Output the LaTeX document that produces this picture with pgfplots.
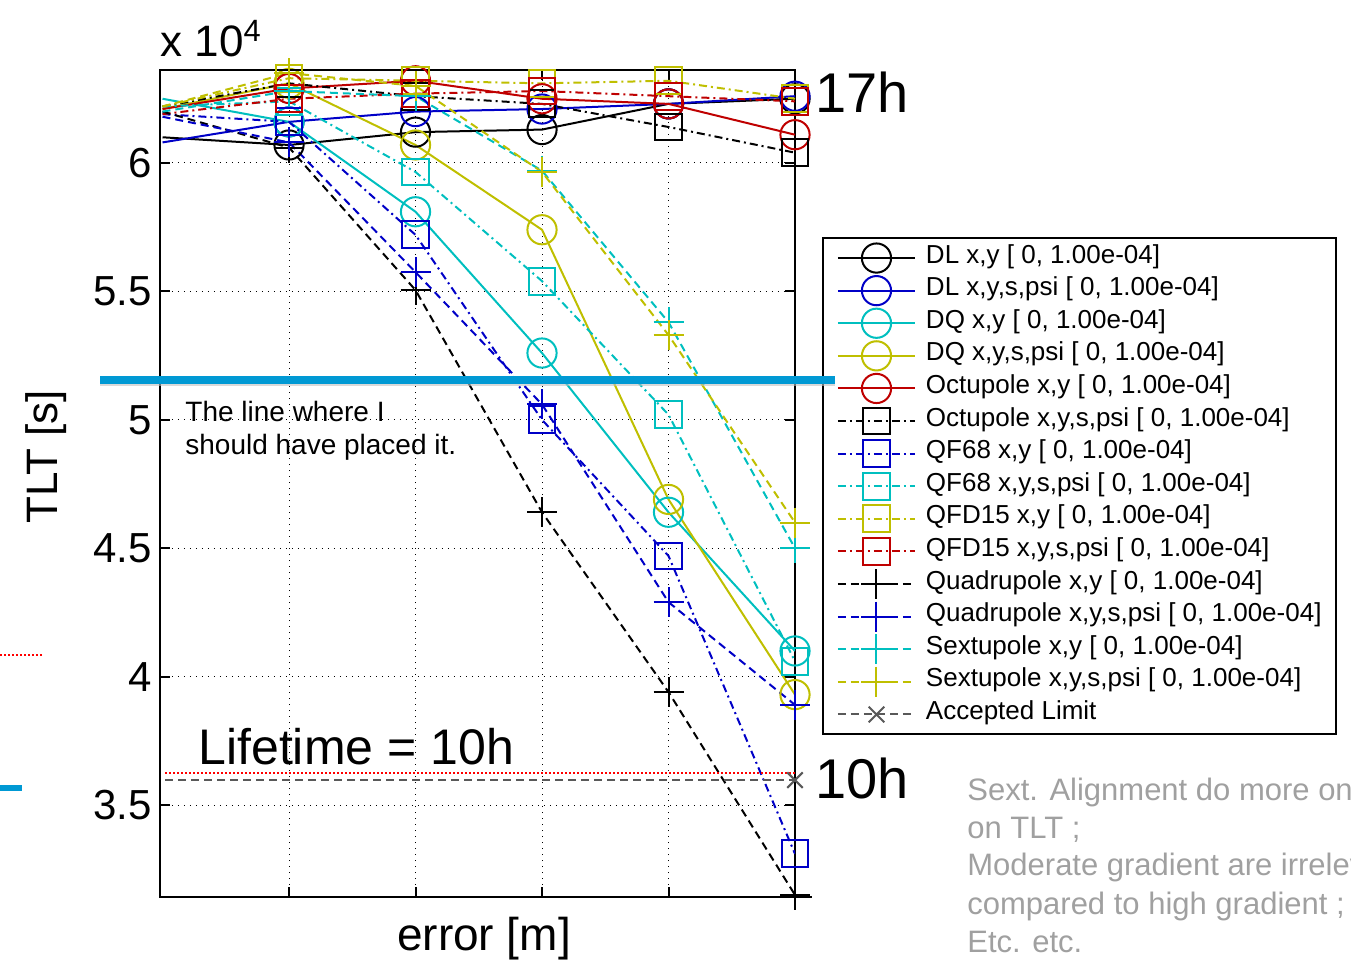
\documentclass[border=0pt]{standalone}
\usepackage{fontspec}
\setmainfont{Liberation Sans}
\usepackage{pgfplots}
\pgfplotsset{compat=1.18}
\definecolor{mblue}{rgb}{0,0,0.78}
\definecolor{mcyan}{rgb}{0,0.75,0.75}
\definecolor{molive}{rgb}{0.75,0.75,0}
\definecolor{mred}{rgb}{0.75,0,0}
\definecolor{mgray}{rgb}{0.35,0.35,0.35}
\definecolor{slideblue}{RGB}{0,153,212}
\definecolor{graytext}{RGB}{160,160,160}
\pgfplotsset{
  sO/.style={line width=1pt, solid, mark=o, mark size=7.3pt, mark options={solid}, mark indices={2,3,4,5,6}},
  sS/.style={line width=1pt, dash pattern=on 4pt off 2pt on 1pt off 2pt, mark=square, mark size=6.7pt, mark options={solid}, mark indices={2,3,4,5,6}},
  sP/.style={line width=1pt, dash pattern=on 4pt off 2.5pt, mark=+, mark size=7.5pt, mark options={solid}, mark indices={2,3,4,5,6}},
}
\begin{document}
\begin{tikzpicture}
\useasboundingbox (0,0) rectangle (675.5pt,480pt);
\clip (0,0) rectangle (675.5pt,480pt);
\begin{axis}[
  scale only axis, width=317.5pt, height=413.5pt,
  at={(80pt,31.5pt)}, anchor=south west,
  xmin=-0.02, xmax=5, ymin=3.142, ymax=6.362,
  xtick={1,2,3,4,5}, xticklabels={},
  ytick={3.5,4,4.5,5,5.5,6},
  scaled y ticks=false,
  tick align=inside, major tick length=5pt,
  grid=major,
  major grid style={black, line width=0.5pt, dash pattern=on 0.6pt off 2.4pt},
  axis line style={line width=1pt},
  every tick/.style={black, line width=1pt},
  /pgf/number format/assume math mode=true,
  yticklabel style={font=\fontsize{21}{21}\selectfont, inner xsep=4pt},
  legend image code/.code={\draw[#1, mark indices={2}] plot coordinates {(0pt,0pt) (19.25pt,0pt) (38.5pt,0pt)};},
  legend cell align=left,
  legend style={at={(1.0425,0.798)}, anchor=north west, draw=black, line width=1pt, fill=white,
    font=\fontsize{13}{14}\selectfont, inner xsep=7pt, inner ysep=2pt, row sep=0.3pt, column sep=5pt,
    nodes={inner sep=0pt, text height=10.5pt, text depth=5.5pt}},
]
\addplot[sO, black] coordinates {(0,6.10) (1,6.07) (2,6.12) (3,6.13) (4,6.23) (5,6.25)};
\addlegendentry{DL x,y [ 0, 1.00e-04]}
\addplot[sO, mblue] coordinates {(0,6.08) (1,6.16) (2,6.20) (3,6.21) (4,6.23) (5,6.26)};
\addlegendentry{DL x,y,s,psi [ 0, 1.00e-04]}
\addplot[sO, mcyan] coordinates {(0,6.25) (1,6.16) (2,5.81) (3,5.26) (4,4.64) (5,4.10)};
\addlegendentry{DQ x,y [ 0, 1.00e-04]}
\addplot[sO, molive] coordinates {(0,6.21) (1,6.31) (2,6.07) (3,5.74) (4,4.69) (5,3.93)};
\addlegendentry{DQ x,y,s,psi [ 0, 1.00e-04]}
\addplot[sO, mred] coordinates {(0,6.21) (1,6.29) (2,6.32) (3,6.25) (4,6.23) (5,6.11)};
\addlegendentry{Octupole x,y [ 0, 1.00e-04]}
\addplot[sS, black] coordinates {(0,6.22) (1,6.31) (2,6.26) (3,6.23) (4,6.14) (5,6.04)};
\addlegendentry{Octupole x,y,s,psi [ 0, 1.00e-04]}
\addplot[sS, mblue] coordinates {(0,6.19) (1,6.16) (2,5.72) (3,5.00) (4,4.47) (5,3.31)};
\addlegendentry{QF68 x,y [ 0, 1.00e-04]}
\addplot[sS, mcyan] coordinates {(0,6.22) (1,6.24) (2,5.965) (3,5.54) (4,5.02) (5,4.06)};
\addlegendentry{QF68 x,y,s,psi [ 0, 1.00e-04]}
\addplot[sS, molive] coordinates {(0,6.22) (1,6.33) (2,6.32) (3,6.31) (4,6.32) (5,6.25)};
\addlegendentry{QFD15 x,y [ 0, 1.00e-04]}
\addplot[sS, mred] coordinates {(0,6.19) (1,6.25) (2,6.27) (3,6.28) (4,6.26) (5,6.24)};
\addlegendentry{QFD15 x,y,s,psi [ 0, 1.00e-04]}
\addplot[sP, black] coordinates {(0,6.20) (1,6.06) (2,5.505) (3,4.64) (4,3.94) (5,3.15)};
\addlegendentry{Quadrupole x,y [ 0, 1.00e-04]}
\addplot[sP, mblue] coordinates {(0,6.18) (1,6.08) (2,5.575) (3,5.06) (4,4.29) (5,3.89)};
\addlegendentry{Quadrupole x,y,s,psi [ 0, 1.00e-04]}
\addplot[sP, mcyan] coordinates {(0,6.20) (1,6.28) (2,6.26) (3,5.97) (4,5.38) (5,4.50)};
\addlegendentry{Sextupole x,y [ 0, 1.00e-04]}
\addplot[sP, molive] coordinates {(0,6.22) (1,6.35) (2,6.30) (3,5.965) (4,5.33) (5,4.60)};
\addlegendentry{Sextupole x,y,s,psi [ 0, 1.00e-04]}
\addplot[line width=1pt, mgray, dash pattern=on 4pt off 2.5pt, mark=x, mark size=5.5pt, mark options={solid}, mark indices={2}] coordinates {(0.02,3.597) (5,3.597)};
\addlegendentry{Accepted Limit}
\addplot[forget plot, line width=1pt, red, dash pattern=on 1pt off 1pt] coordinates {(0.02,3.625) (5,3.625)};
\end{axis}
% extra border pieces
\draw[line width=1pt] (397.5pt,31.5pt) -- (406pt,31.5pt);
\draw[line width=1pt] (397.5pt,31.5pt) -- (397.5pt,25pt);
% slide annotations
\draw[line width=4pt, black!25, opacity=0.6] (50pt,288.8pt) -- (417.5pt,288.8pt);
\draw[line width=4pt, slideblue] (50pt,290pt) -- (417.5pt,290pt);
\draw[line width=3pt, slideblue] (0pt,86pt) -- (11pt,86pt);
\draw[line width=0.8pt, red, dash pattern=on 1pt off 1pt] (0pt,152.5pt) -- (21.5pt,152.5pt);
\node[anchor=base west, inner sep=0pt, font=\fontsize{22}{22}\selectfont] at (80pt,451.5pt) {x 10\textsuperscript{4}};
\node[anchor=base west, inner sep=0pt, font=\fontsize{28}{28}\selectfont] at (407.5pt,423.5pt) {17h};
\node[anchor=base west, inner sep=0pt, font=\fontsize{28}{28}\selectfont] at (407.5pt,81pt) {10h};
\node[anchor=base west, inner sep=0pt, font=\fontsize{25}{25}\selectfont] at (99pt,97.5pt) {Lifetime = 10h};
\node[anchor=base west, inner sep=0pt, font=\fontsize{14}{14}\selectfont] at (92.5pt,269pt) {The line where I};
\node[anchor=base west, inner sep=0pt, font=\fontsize{14}{14}\selectfont] at (92.5pt,252.5pt) {should have placed it.};
\node[anchor=base, inner sep=0pt, font=\fontsize{23}{23}\selectfont] at (242pt,5pt) {error [m]};
\node[rotate=90, anchor=center, inner sep=0pt, font=\fontsize{22}{22}\selectfont] at (23pt,251.5pt) {TLT [s]};
\begin{scope}[every node/.style={anchor=base west, inner sep=0pt, text=graytext, font=\fontsize{15.5}{15.5}\selectfont}]
\node at (483.5pt,80pt) {Sext. Alignment do more on};
\node at (483.5pt,61pt) {on TLT ;};
\node at (483.5pt,42pt) {Moderate gradient are irrelevant};
\node at (483.5pt,23pt) {compared to high gradient ;};
\node at (483.5pt,4pt) {Etc. etc.};
\end{scope}
\end{tikzpicture}
\end{document}
